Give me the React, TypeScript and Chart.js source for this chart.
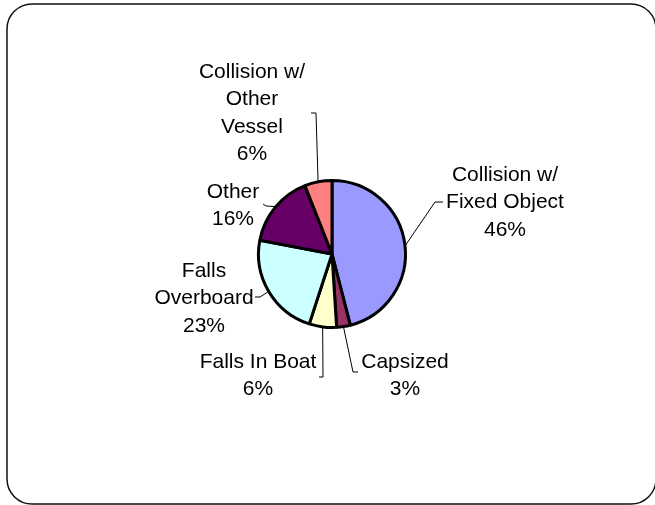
import React, { useEffect, useRef } from "react";
import { Chart, registerables } from "chart.js";

Chart.register(...registerables);

const categories = [
  "Collision w/ Fixed Object",
  "Capsized",
  "Falls In Boat",
  "Falls Overboard",
  "Other",
  "Collision w/ Other Vessel",
];
const values = [46, 3, 6, 23, 16, 6];
const colors = ["#9999FF", "#993366", "#FFFFCC", "#CCFFFF", "#660066", "#FF8080"];

// label text lines per slice (category words + percent)
const labelLines: string[][] = [
  ["Collision w/", "Fixed Object"],
  ["Capsized"],
  ["Falls In Boat"],
  ["Falls", "Overboard"],
  ["Other"],
  ["Collision w/", "Other", "Vessel"],
];

// layout: text block center x, first line middle y; leader path after arc point
const labelPos = [
  { x: 505, y: 175 },
  { x: 405, y: 362 },
  { x: 258, y: 362 },
  { x: 204, y: 271 },
  { x: 233, y: 192 },
  { x: 252, y: 72 },
];
const leaderPaths: number[][][] = [
  [[435, 202], [443, 202]],
  [[353, 372], [358, 372]],
  [[323, 377], [319, 377]],
  [[260, 297], [255, 297]],
  [[266, 206], [263, 204]],
  [[316, 113], [311, 113]],
];

const LINE_H = 27.5;
const FONT = '21px "Liberation Sans", Arial, sans-serif';

const labelPlugin = {
  id: "outerLabels",
  beforeDraw(chart: any) {
    const ctx = chart.ctx;
    ctx.save();
    ctx.strokeStyle = "#111";
    ctx.lineWidth = 1.5;
    const x0 = 7, y0 = 4, x1 = 656, y1 = 504, r = 25;
    ctx.beginPath();
    ctx.moveTo(x0 + r, y0);
    ctx.lineTo(x1 - r, y0);
    ctx.arcTo(x1, y0, x1, y0 + r, r);
    ctx.lineTo(x1, y1 - r);
    ctx.arcTo(x1, y1, x1 - r, y1, r);
    ctx.lineTo(x0 + r, y1);
    ctx.arcTo(x0, y1, x0, y1 - r, r);
    ctx.lineTo(x0, y0 + r);
    ctx.arcTo(x0, y0, x0 + r, y0, r);
    ctx.closePath();
    ctx.stroke();
    ctx.restore();
  },
  afterDraw(chart: any) {
    const ctx = chart.ctx;
    const meta = chart.getDatasetMeta(0);
    const total = values.reduce((a, b) => a + b, 0);
    ctx.save();
    ctx.font = FONT;
    ctx.fillStyle = "#000";
    ctx.textAlign = "center";
    ctx.textBaseline = "middle";
    meta.data.forEach((arc: any, i: number) => {
      const { x, y, startAngle, endAngle, outerRadius } = arc.getProps(
        ["x", "y", "startAngle", "endAngle", "outerRadius"],
        true
      );
      const mid = (startAngle + endAngle) / 2;
      const px = x + Math.cos(mid) * (outerRadius + 1);
      const py = y + Math.sin(mid) * (outerRadius + 1);
      ctx.strokeStyle = "#000";
      ctx.lineWidth = 1;
      ctx.beginPath();
      ctx.moveTo(px, py);
      leaderPaths[i].forEach((p) => ctx.lineTo(p[0], p[1]));
      ctx.stroke();
      const lines = [...labelLines[i], Math.round((values[i] / total) * 100) + "%"];
      lines.forEach((t, j) => {
        ctx.fillText(t, labelPos[i].x, labelPos[i].y + j * LINE_H);
      });
    });
    ctx.restore();
  },
};

export default function App() {
  const ref = useRef<HTMLCanvasElement | null>(null);
  useEffect(() => {
    if (!ref.current) return;
    const chart = new Chart(ref.current, {
      type: "pie",
      data: {
        labels: categories,
        datasets: [
          {
            data: values,
            backgroundColor: colors,
            borderColor: "#000",
            borderWidth: 3,
          },
        ],
      },
      options: {
        responsive: false,
        animation: false,
        layout: { padding: { left: 257, right: 248, top: 179, bottom: 176 } },
        plugins: {
          legend: { display: false },
          tooltip: { enabled: false },
        },
      },
      plugins: [labelPlugin],
    });
    return () => chart.destroy();
  }, []);
  return (
    <div style={{ position: "fixed", left: 0, top: 0, width: 655, height: 505, background: "#fff" }}>
      <canvas ref={ref} width={655} height={505} style={{ display: "block" }} />
    </div>
  );
}
